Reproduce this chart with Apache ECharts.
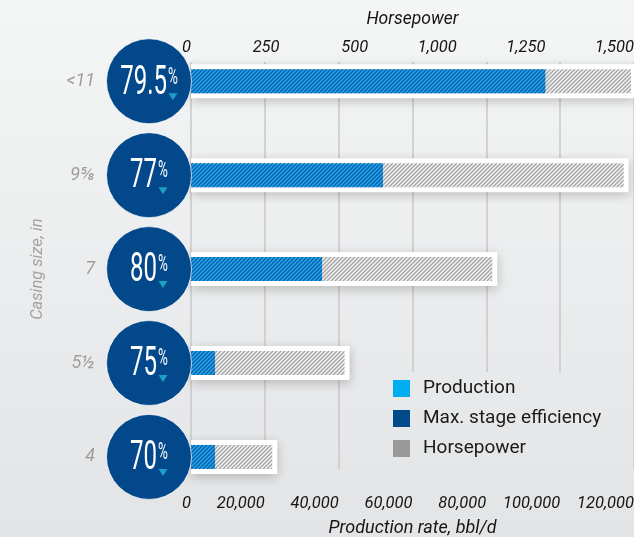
<!DOCTYPE html>
<html>
<head>
<meta charset="utf-8">
<script src="https://cdn.jsdelivr.net/npm/echarts@6/dist/echarts.min.js"></script>
<style>
  html, body { margin: 0; padding: 0; }
  #chart { width: 634px; height: 537px; }
</style>
</head>
<body>
<div id="chart"></div>
<script>
// data
const casingSizes = ["<11", "9⅝", "7", "5½", "4"];
const production = [96000, 52000, 35500, 6500, 6500]; // bbl/d
const horsepower = [1490, 1465, 1020, 520, 275];
const efficiency = [79.5, 77, 80, 75, 70]; // max. stage efficiency, %
const productionTicks = ["0", "20,000", "40,000", "60,000", "80,000", "100,000", "120,000"];
const hpTicks = ["0", "250", "500", "1,000", "1,250", "1,500"];

const FONT = "Roboto, sans-serif";
const hpPad = 17; // white box sticks out past the horsepower bar

// page background, reused by the legend so it hides the grid lines
const bgStops = [
  { offset: 0, color: "#f4f5f5" },
  { offset: 1, color: "#e3e4e6" }
];
const legendLeft = 385;
const legendTop = 372;
const legendPad = [6, 20, 10, 8];

// fine diagonal hatch used for the bars
function hatch(bg, line, size) {
  const c = document.createElement("canvas");
  c.width = c.height = size;
  const ctx = c.getContext("2d");
  ctx.fillStyle = bg;
  ctx.fillRect(0, 0, size, size);
  ctx.strokeStyle = line;
  ctx.lineWidth = 1.3;
  ctx.beginPath();
  ctx.moveTo(0, size); ctx.lineTo(size, 0);
  ctx.moveTo(-1, 1); ctx.lineTo(1, -1);
  ctx.moveTo(size - 1, size + 1); ctx.lineTo(size + 1, size - 1);
  ctx.stroke();
  return { image: c, repeat: "repeat" };
}

const mctx = document.createElement("canvas").getContext("2d");
function textWidth(t, size) {
  mctx.font = size + "px " + FONT;
  return mctx.measureText(t).width;
}
// squeeze the circle numbers to a condensed look
const squeeze = 13.5 / textWidth("0", 41);

const tickStyle = { fontSize: 16.5, fontStyle: "italic", color: "#151515" };

let myChart = echarts.init(document.getElementById("chart"));
myChart.setOption({
  animation: false,
  backgroundColor: { type: "linear", x: 0, y: 0, x2: 0, y2: 1, colorStops: bgStops },
  textStyle: { fontFamily: FONT },
  grid: [
    { left: 191, right: 0, top: 34.3, height: 469.6, outerBoundsMode: "none" },
    // only for the vertical grid lines
    { left: 191, right: 0, top: 62, bottom: 68, outerBoundsMode: "none" }
  ],
  legend: {
    orient: "vertical",
    left: legendLeft,
    top: legendTop,
    padding: legendPad,
    // gradient in the legend's own coordinates, lined up with the page one
    backgroundColor: {
      type: "linear",
      x: 0,
      y: -(legendTop + legendPad[0]),
      x2: 0,
      y2: 537 - (legendTop + legendPad[0]),
      global: true,
      colorStops: bgStops
    },
    itemWidth: 17,
    itemHeight: 17,
    itemGap: 9,
    icon: "rect",
    selectedMode: false,
    textStyle: { fontFamily: FONT, fontSize: 19, color: "#1a1a1a", lineHeight: 21, padding: [0, 0, 0, 8] },
    data: [
      { name: "Production", itemStyle: { color: "#00aeef" } },
      { name: "Max. stage efficiency", itemStyle: { color: "#004a8a" } },
      { name: "Horsepower", itemStyle: { color: "#999999" } }
    ]
  },
  xAxis: [
    {
      gridIndex: 0,
      type: "value",
      position: "bottom",
      min: 0,
      max: 120000,
      interval: 20000,
      offset: -10.4,
      axisLine: { show: false },
      axisTick: { show: false },
      splitLine: { show: false },
      axisLabel: Object.assign({ margin: 2, align: "right", formatter: (v, i) => productionTicks[i] }, tickStyle),
      name: "Production rate, bbl/d",
      nameLocation: "middle",
      nameGap: 26,
      nameTextStyle: { fontSize: 18, fontStyle: "italic", color: "#151515", verticalAlign: "top" }
    },
    {
      gridIndex: 0,
      type: "value",
      position: "top",
      min: 0,
      max: 1500,
      interval: 300,
      offset: -22.2,
      axisLine: { show: false },
      axisTick: { show: false },
      splitLine: { show: false },
      axisLabel: Object.assign({ margin: 0, align: "right", formatter: (v, i) => hpTicks[i] }, tickStyle),
      name: "Horsepower",
      nameLocation: "middle",
      nameGap: 28,
      nameTextStyle: { fontSize: 17.5, fontStyle: "italic", color: "#151515" }
    },
    {
      gridIndex: 1,
      type: "value",
      min: 0,
      max: 120000,
      interval: 20000,
      axisLine: { show: false },
      axisTick: { show: false },
      axisLabel: { show: false },
      splitLine: { show: true, lineStyle: { color: "#c8c9ca", width: 1.5 } }
    }
  ],
  yAxis: [
    {
      gridIndex: 0,
      type: "category",
      inverse: true,
      data: casingSizes,
      axisLine: { show: false },
      axisTick: { show: false },
      axisLabel: { margin: 96, fontSize: 18, fontStyle: "italic", color: "#9d9d9d" },
      name: "Casing size, in",
      nameLocation: "middle",
      nameGap: 145,
      nameTextStyle: { fontSize: 16.5, fontStyle: "italic", color: "#a2a2a2" }
    },
    {
      // white boxes get their own band axis so they centre independently
      gridIndex: 0,
      type: "category",
      inverse: true,
      data: casingSizes,
      show: false
    },
    { gridIndex: 1, type: "value", show: false }
  ],
  series: [
    {
      name: "box",
      type: "bar",
      xAxisIndex: 1,
      yAxisIndex: 1,
      data: horsepower.map(v => v + hpPad),
      barWidth: 34,
      silent: true,
      z: 1,
      itemStyle: {
        color: "#ffffff",
        shadowBlur: 10,
        shadowColor: "rgba(0, 0, 0, 0.22)",
        shadowOffsetY: 3
      }
    },
    {
      name: "Horsepower",
      type: "bar",
      xAxisIndex: 1,
      yAxisIndex: 0,
      data: horsepower,
      barWidth: 24,
      barGap: "-100%",
      z: 2,
      itemStyle: { color: hatch("#f2f2f2", "#a3a3a3", 4) }
    },
    {
      name: "Production",
      type: "bar",
      xAxisIndex: 0,
      yAxisIndex: 0,
      data: production,
      barWidth: 24,
      barGap: "-100%",
      z: 3,
      itemStyle: { color: hatch("#2ca2e2", "#0062b2", 4) }
    },
    {
      name: "Max. stage efficiency",
      type: "custom",
      xAxisIndex: 0,
      yAxisIndex: 0,
      clip: false,
      z: 5,
      encode: { x: 0, y: 1 },
      data: efficiency.map((v, i) => [0, i, v]),
      renderItem: function(params, api) {
        const p = api.coord([0, api.value(1)]);
        const cx = p[0] - 42;
        const cy = p[1];
        const num = String(api.value(2));
        const numW = textWidth(num, 41) * squeeze;
        const pctW = textWidth("%", 23) * squeeze;
        const left = cx - (numW + pctW + 1) / 2;
        const px = left + numW + 1;
        const tx = px + pctW / 2;
        return {
          type: "group",
          children: [
            {
              type: "circle",
              shape: { cx: cx, cy: cy, r: 42.5 },
              style: { fill: "#03488a", stroke: "rgba(255,255,255,0.7)", lineWidth: 1 }
            },
            {
              type: "text",
              x: left,
              y: cy + 2,
              scaleX: squeeze,
              style: { text: num, font: "41px " + FONT, fill: "#ffffff", align: "left", verticalAlign: "middle" }
            },
            {
              type: "text",
              x: px,
              y: cy - 15,
              scaleX: squeeze,
              style: { text: "%", font: "23px " + FONT, fill: "#ffffff", align: "left", verticalAlign: "top" }
            },
            {
              type: "polygon",
              shape: { points: [[tx - 4.5, cy + 12], [tx + 4.5, cy + 12], [tx, cy + 19]] },
              style: { fill: "#1e9fc4" }
            }
          ]
        };
      }
    }
  ]
});
</script>
</body>
</html>
